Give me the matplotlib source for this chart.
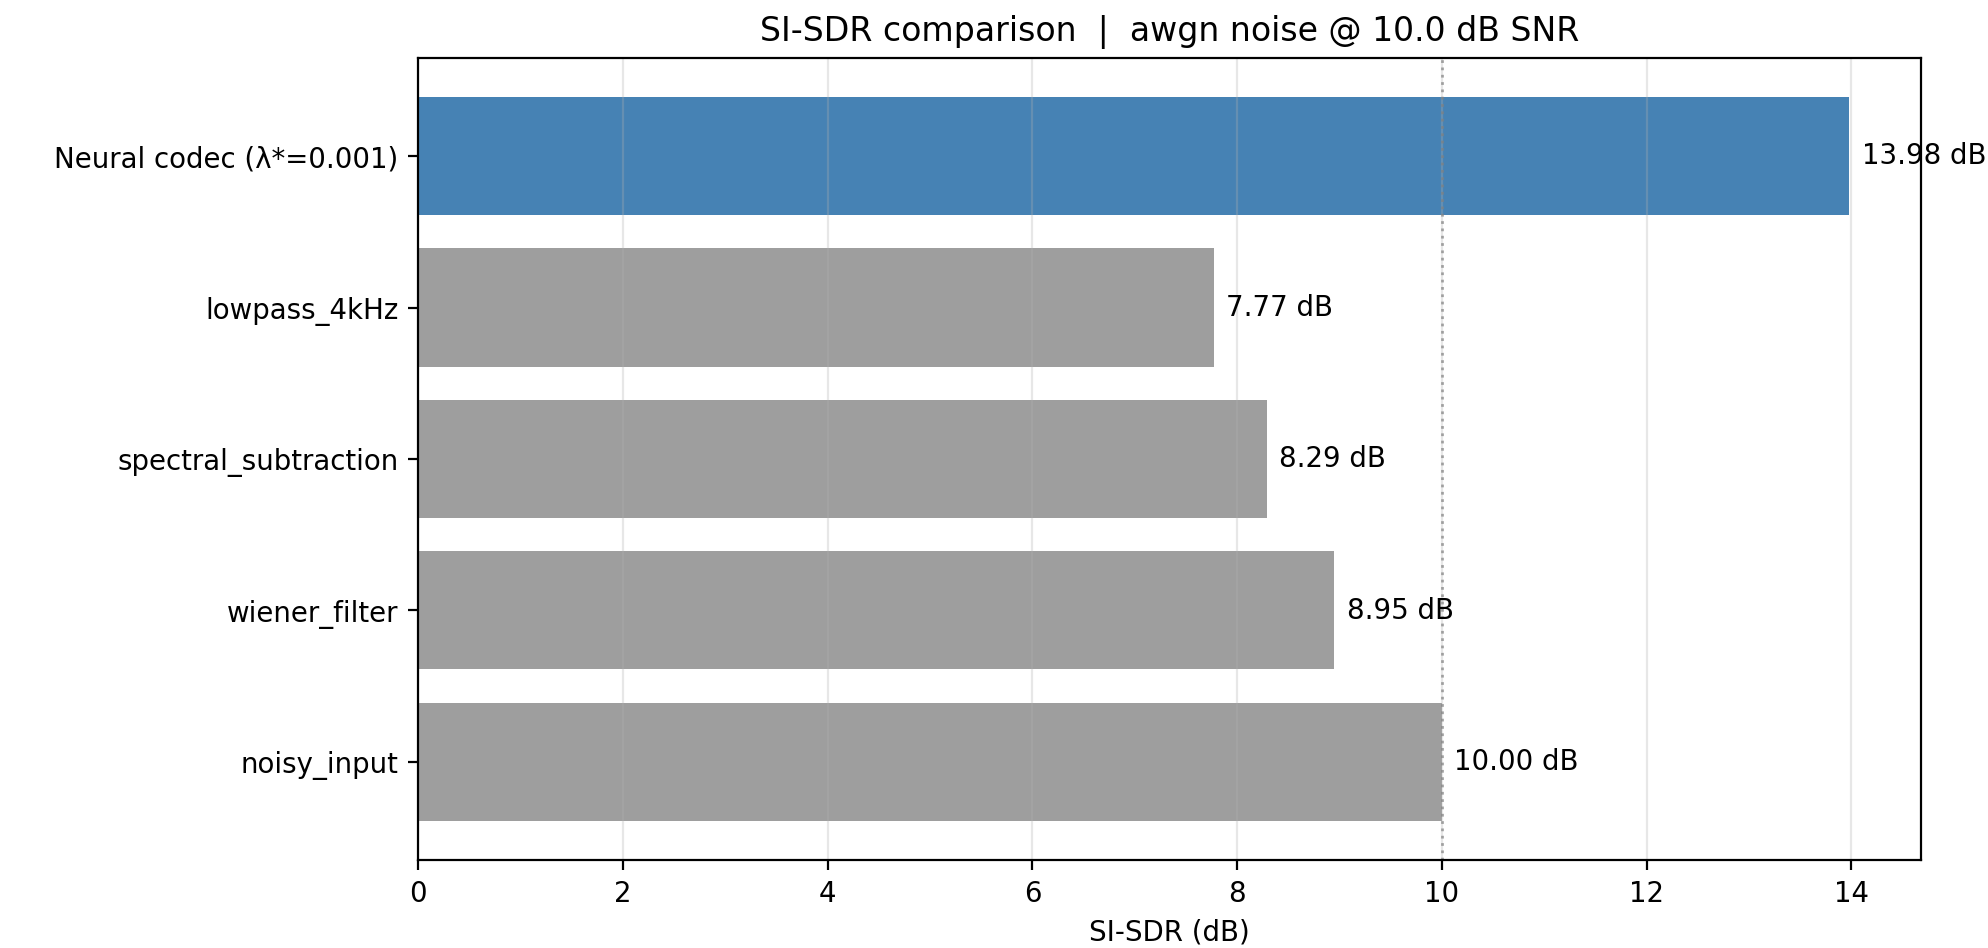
import matplotlib
matplotlib.use("Agg")
import matplotlib.pyplot as plt

methods = ["Neural codec (λ*=0.001)", "lowpass_4kHz", "spectral_subtraction",
           "wiener_filter", "noisy_input"]
si_sdr = [13.98, 7.77, 8.29, 8.95, 10.00]
input_snr = 10.0

colors = ["#4682b4"] + ["#9e9e9e"] * (len(methods) - 1)

fig = plt.figure(figsize=(10, 4.77), dpi=198.8)
ax = fig.add_axes([0.2103, 0.0928, 0.756, 0.846])

pos = list(range(len(methods)))
ax.barh(pos, si_sdr, height=0.78, color=colors)
ax.axvline(input_snr, color="gray", linestyle=":", linewidth=1.0, alpha=0.7)

for y, v in zip(pos, si_sdr):
    ax.text(v + 0.12, y, f"{v:.2f} dB", va="center", ha="left", fontsize=10)

ax.set_yticks(pos)
ax.set_yticklabels(methods)
ax.set_ylim(len(methods) - 0.35, -0.65)
ax.set_xlim(0, max(si_sdr) * 1.05)
ax.set_xticks(range(0, 15, 2))
ax.grid(axis="x", alpha=0.3)
ax.set_xlabel("SI-SDR (dB)")
ax.set_title("SI-SDR comparison  |  awgn noise @ 10.0 dB SNR", fontsize=12)

fig.savefig("out.png", dpi=198.8)
